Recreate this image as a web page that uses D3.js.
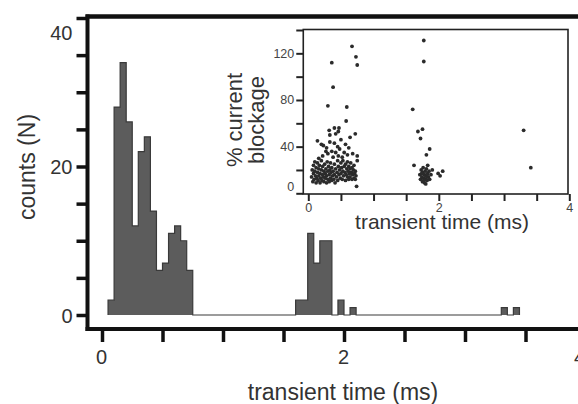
<!DOCTYPE html>
<html lang="en">
<head>
<meta charset="UTF-8">
<title>transient time</title>
<script src="https://cdn.jsdelivr.net/npm/d3@7"></script>
<style>
    * { margin: 0; padding: 0; }
    body { background: #fff; overflow: hidden; }
    svg text { font-family: "Liberation Sans", Arial, sans-serif; }
</style>
</head>
<body>
<div id="chart"></div>
<script>
    // histogram: left edge (ms) of every non-empty 0.05 ms bin, and its count
    const binStart = [0.05, 0.10, 0.15, 0.20, 0.25, 0.30, 0.35, 0.40, 0.45, 0.50, 0.55, 0.60, 0.65, 0.70,
        1.60, 1.65, 1.70, 1.75, 1.80, 1.85, 1.95, 2.05, 3.30, 3.40];
    const binCount = [2, 28, 34, 26, 12, 22, 24, 14, 6, 7, 11, 12, 10, 6,
        2, 2, 11, 7, 10, 10, 2, 1, 1, 1];
    const binWidth = 0.05;

    // inset scatter: transient time (ms) and % current blockage of each event
    const eventTime = [
        0.67, 0.73, 0.75, 0.36, 0.38, 0.30, 0.59, 0.58, 0.40, 0.47, 0.32, 0.46, 0.33, 0.42, 0.72, 0.64, 0.50, 0.14,
        0.75, 0.75, 0.74,
        0.20, 0.23, 0.28, 0.27, 0.33, 0.40, 0.45, 0.36, 0.30, 0.42, 0.48, 0.55, 0.60, 0.52, 0.62, 0.22, 0.16, 0.38, 0.46, 0.68, 0.57,
        0.05, 0.06, 0.07, 0.08, 0.08, 0.09, 0.10, 0.10, 0.11, 0.12, 0.12, 0.13, 0.14, 0.14, 0.15, 0.16, 0.16, 0.17, 0.18, 0.18,
        0.19, 0.20, 0.20, 0.21, 0.22, 0.22, 0.23, 0.24, 0.24, 0.25, 0.26, 0.26, 0.27, 0.28, 0.28, 0.29, 0.30, 0.30, 0.31, 0.32,
        0.32, 0.33, 0.34, 0.34, 0.35, 0.36, 0.36, 0.37, 0.38, 0.39, 0.40, 0.40, 0.41, 0.42, 0.43, 0.44, 0.45, 0.45, 0.46, 0.47,
        0.48, 0.49, 0.50, 0.50, 0.51, 0.52, 0.53, 0.53, 0.54, 0.55, 0.56, 0.57, 0.57, 0.58, 0.59, 0.60, 0.60, 0.61, 0.62, 0.62,
        0.63, 0.64, 0.64, 0.65, 0.66, 0.67, 0.67, 0.68, 0.69, 0.70, 0.70, 0.71, 0.72, 0.72, 0.73,
        1.77, 1.77, 1.60, 1.68, 1.75, 1.72, 1.86, 1.81, 1.62, 1.83, 1.99, 2.06, 2.02, 1.80,
        1.71, 1.72, 1.73, 1.74, 1.75, 1.75, 1.76, 1.77, 1.78, 1.78, 1.79, 1.80, 1.80, 1.81, 1.82, 1.83, 1.84, 1.85, 1.86, 1.88,
        1.90, 1.74, 1.77, 1.82,
        3.30, 3.41
    ];
    const eventBlockage = [
        126, 117, 110, 112, 91, 75, 74, 62, 56, 56, 54, 53, 50, 51, 51, 48, 46, 45,
        32, 28, 6,
        42, 41, 39, 36, 44, 43, 40, 36, 34, 35, 38, 35, 33, 31, 39, 32, 30, 31, 32, 34, 42,
        14, 20, 10, 17, 24, 12, 19, 27, 15, 9, 22, 13, 18, 26, 11, 21, 15, 24, 9, 17,
        13, 20, 28, 11, 16, 23, 14, 19, 10, 25, 13, 17, 21, 9, 15, 27, 12, 19, 23, 10,
        16, 20, 13, 26, 18, 11, 22, 15, 19, 12, 25, 16, 9, 21, 14, 18, 28, 11, 23, 16,
        20, 13, 26, 17, 22, 12, 19, 28, 15, 23, 18, 11, 25, 16, 21, 14, 27, 19, 12, 23,
        17, 21, 14, 26, 18, 12, 22, 16, 20, 13, 24, 17, 19, 12, 15,
        131, 113, 72, 53, 55, 47, 38, 33, 24, 24, 17, 19, 15, 8,
        16, 12, 20, 14, 10, 18, 22, 13, 16, 9, 19, 12, 15, 21, 11, 17, 14, 19, 12, 16,
        20, 17, 11, 14,
        54, 22
    ];

    const mainXTicks = [0, 0.5, 1, 1.5, 2, 2.5, 3, 3.5, 4];
    const mainXLabels = [0, 2, 4];
    const mainYTicks = [0, 5, 10, 15, 20, 25, 30, 35, 40];
    const mainYLabels = [0, 20, 40];
    const insetXTicks = [0, 0.5, 1, 1.5, 2, 2.5, 3, 3.5, 4];
    const insetXLabels = [0, 2, 4];
    const insetYTicks = [0, 20, 40, 60, 80, 100, 120, 140];
    const insetYLabels = [0, 40, 80, 120];

    const svgWidth = 578;
    const svgHeight = 404;

    const svg = d3.select('#chart')
        .append('svg')
        .attr('width', svgWidth)
        .attr('height', svgHeight);

    // main chart scales
    const x = d3.scaleLinear().domain([0, 4]).range([102, 586]);
    const y = d3.scaleLinear().domain([0, 40]).range([315, 18]);

    const axisColor = '#111';
    const labelColor = '#333';

    // x axis
    const xAxisG = svg.append('g')
        .attr('transform', 'translate(0,329)')
        .call(d3.axisBottom(x).tickValues(mainXTicks).tickSize(13).tickPadding(8)
            .tickFormat(d => mainXLabels.includes(d) ? d : ''));
    xAxisG.select('.domain').remove();
    xAxisG.selectAll('line').attr('stroke', axisColor).attr('stroke-width', 3.5);
    xAxisG.selectAll('text')
        .attr('font-size', '20px')
        .attr('fill', labelColor)
        .attr('dx', d => d === 4 ? -7 : -1);

    // y axis
    const yAxisG = svg.append('g')
        .attr('transform', 'translate(87.5,0)')
        .call(d3.axisLeft(y).tickValues(mainYTicks).tickSize(11).tickPadding(4)
            .tickFormat(d => mainYLabels.includes(d) ? d : ''));
    yAxisG.select('.domain').remove();
    yAxisG.selectAll('line').attr('stroke', axisColor).attr('stroke-width', 3.5);
    yAxisG.selectAll('text')
        .attr('font-size', '20px')
        .attr('fill', labelColor)
        .attr('dy', d => d === 40 ? '1.05em' : '0.35em');

    // frame lines
    svg.append('line').attr('x1', 85.5).attr('x2', 600).attr('y1', 16.5).attr('y2', 16.5)
        .attr('stroke', axisColor).attr('stroke-width', 4.5);
    svg.append('line').attr('x1', 87.5).attr('x2', 87.5).attr('y1', 14.5).attr('y2', 331)
        .attr('stroke', axisColor).attr('stroke-width', 4);
    svg.append('line').attr('x1', 85.5).attr('x2', 600).attr('y1', 329).attr('y2', 329)
        .attr('stroke', axisColor).attr('stroke-width', 4);

    // histogram, walked bin by bin so empty bins form the baseline
    const firstBin = Math.round(binStart[0] / binWidth);
    const lastBin = Math.round(binStart[binStart.length - 1] / binWidth);
    const steps = [{ t: binStart[0], c: 0 }];
    for (let i = firstBin; i <= lastBin; i++) {
        const k = binStart.findIndex(b => Math.round(b / binWidth) === i);
        steps.push({ t: i * binWidth, c: k >= 0 ? binCount[k] : 0 });
    }
    steps.push({ t: (lastBin + 1) * binWidth, c: 0 });

    svg.append('path')
        .datum(steps)
        .attr('d', d3.area().x(d => x(d.t)).y0(y(0)).y1(d => y(d.c)).curve(d3.curveStepAfter))
        .attr('fill', '#5c5c5c');
    svg.append('path')
        .datum(steps)
        .attr('d', d3.line().x(d => x(d.t)).y(d => y(d.c)).curve(d3.curveStepAfter))
        .attr('fill', 'none')
        .attr('stroke', '#3a3a3a')
        .attr('stroke-width', 1.2);

    // axis titles
    svg.append('text')
        .attr('x', 343).attr('y', 400)
        .attr('text-anchor', 'middle')
        .attr('font-size', '23px')
        .attr('fill', labelColor)
        .text('transient time (ms)');
    svg.append('text')
        .attr('transform', 'translate(35,167) rotate(-90)')
        .attr('text-anchor', 'middle')
        .attr('font-size', '23px')
        .attr('fill', labelColor)
        .text('counts (N)');

    // inset scatter
    const xIn = d3.scaleLinear().domain([0, 4]).range([308.3, 569.3]);
    const yIn = d3.scaleLinear().domain([0, 140]).range([193.3, 30]);
    const inset = svg.append('g');

    inset.append('rect')
        .attr('x', xIn(-0.077)).attr('y', 29.5)
        .attr('width', 568 - xIn(-0.077)).attr('height', 194 - 29.5)
        .attr('fill', '#fff')
        .attr('stroke', '#222')
        .attr('stroke-width', 1.6);

    const inXAxis = inset.append('g')
        .attr('transform', 'translate(0,194)')
        .call(d3.axisBottom(xIn).tickValues(insetXTicks).tickSize(7).tickPadding(2)
            .tickFormat(d => insetXLabels.includes(d) ? d : ''));
    inXAxis.select('.domain').remove();
    inXAxis.selectAll('line').attr('stroke', '#222').attr('stroke-width', 2);
    inXAxis.selectAll('text').attr('font-size', '12.5px').attr('fill', '#444');

    const inYAxis = inset.append('g')
        .attr('transform', `translate(${xIn(-0.077)},0)`)
        .call(d3.axisLeft(yIn).tickValues(insetYTicks).tickSize(7).tickPadding(2)
            .tickFormat(d => insetYLabels.includes(d) ? d : ''));
    inYAxis.select('.domain').remove();
    inYAxis.selectAll('line').attr('stroke', '#222').attr('stroke-width', 2);
    inYAxis.selectAll('text')
        .attr('font-size', '12.5px')
        .attr('fill', '#444')
        .attr('dy', d => d === 0 ? '-0.2em' : '0.32em');

    inset.selectAll('circle')
        .data(eventTime)
        .enter()
        .append('circle')
        .attr('cx', d => xIn(d))
        .attr('cy', (d, i) => yIn(eventBlockage[i]))
        .attr('r', 1.9)
        .attr('fill', '#2b2b2b');

    inset.append('text')
        .attr('x', 442).attr('y', 229)
        .attr('text-anchor', 'middle')
        .attr('font-size', '21px')
        .attr('fill', labelColor)
        .text('transient time (ms)');

    const insetYTitle = inset.append('text')
        .attr('transform', 'translate(241.5,120) rotate(-90)')
        .attr('text-anchor', 'middle')
        .attr('font-size', '22px')
        .attr('fill', labelColor);
    insetYTitle.append('tspan').attr('x', 0).attr('dy', 0).text('% current');
    insetYTitle.append('tspan').attr('x', 0).attr('dy', '1.0em').text('blockage');
</script>
</body>
</html>
